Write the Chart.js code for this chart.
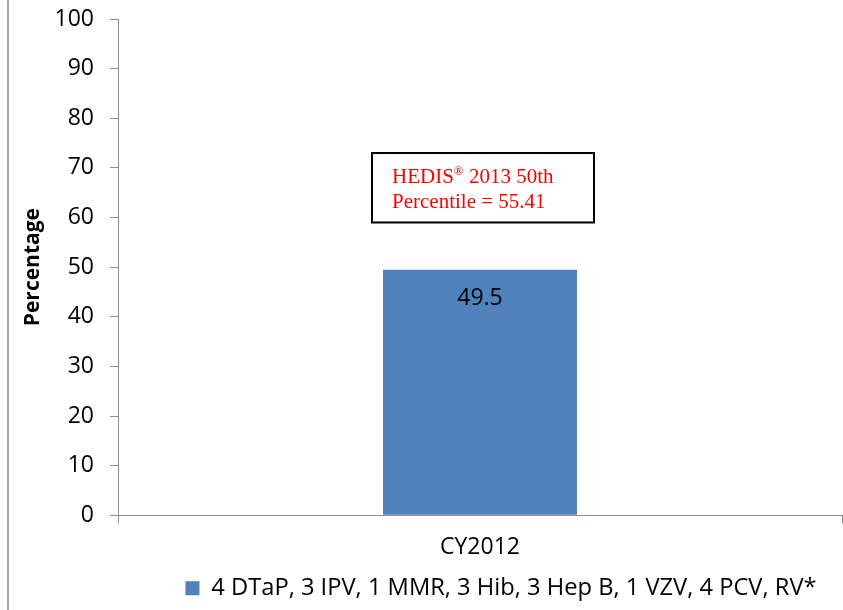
<!DOCTYPE html>
<html>
<head>
<meta charset="utf-8">
<script src="https://cdn.jsdelivr.net/npm/chart.js@4"></script>
<style>
  html, body { margin: 0; padding: 0; background: #fff; }
  #wrap { width: 843px; height: 610px; }
</style>
</head>
<body>
<div id="wrap"><canvas id="barChart" width="843" height="610"></canvas></div>
<script>
// data
const categories = ["CY2012"];
const seriesName = "4 DTaP, 3 IPV, 1 MMR, 3 Hib, 3 Hep B, 1 VZV, 4 PCV, RV*";
const seriesValues = [49.5];
const benchmarkLines = ["HEDIS", "® 2013 50th", "Percentile = 55.41"];
const yTicks = [0, 10, 20, 30, 40, 50, 60, 70, 80, 90, 100];

const grey = "#8c8c8c";
const sans = "'Open Sans', sans-serif";

// grey frame line on the left
const framePlugin = {
  id: "frame",
  beforeDraw(chart) {
    const ctx = chart.ctx;
    ctx.save();
    ctx.strokeStyle = "#a6a6a6";
    ctx.lineWidth = 2;
    ctx.beginPath();
    ctx.moveTo(8, 0);
    ctx.lineTo(8, chart.height);
    ctx.stroke();
    ctx.restore();
  },
};

// value label inside the bar + benchmark text box
const labelPlugin = {
  id: "labels",
  afterDatasetsDraw(chart) {
    const ctx = chart.ctx;
    const meta = chart.getDatasetMeta(0);
    ctx.save();
    ctx.fillStyle = "#000";
    ctx.font = "23px " + sans;
    ctx.textAlign = "center";
    ctx.textBaseline = "middle";
    meta.data.forEach((bar, i) => {
      ctx.fillText(seriesValues[i].toFixed(1), bar.x, bar.y + 29);
    });

    // benchmark box
    const y = chart.scales.y;
    const cx = meta.data[0].x;
    const left = cx - 108, right = cx + 114;
    const top = y.getPixelForValue(73), bottom = y.getPixelForValue(59);
    ctx.fillStyle = "#fff";
    ctx.fillRect(left, top, right - left, bottom - top);
    ctx.strokeStyle = "#000";
    ctx.lineWidth = 2;
    ctx.strokeRect(left, top, right - left, bottom - top);

    ctx.fillStyle = "#ff0000";
    ctx.textAlign = "left";
    ctx.textBaseline = "alphabetic";
    const tx = left + 20;
    ctx.font = "21px 'Liberation Serif', serif";
    ctx.fillText(benchmarkLines[0], tx, top + 30);
    let w = ctx.measureText(benchmarkLines[0]).width;
    ctx.font = "13px 'Liberation Serif', serif";
    ctx.fillText("®", tx + w, top + 22);
    w += ctx.measureText("®").width;
    ctx.font = "21px 'Liberation Serif', serif";
    ctx.fillText(benchmarkLines[1].slice(1), tx + w, top + 30);
    ctx.fillText(benchmarkLines[2], tx, top + 55);
    ctx.restore();
  },
};

// move the legend a bit right like the original
const legendShift = {
  id: "legendShift",
  afterLayout(chart) {
    chart.legend.left += 80;
    chart.legend.right += 80;
  },
};

new Chart(document.getElementById("barChart").getContext("2d"), {
  type: "bar",
  data: {
    labels: categories,
    datasets: [
      {
        label: seriesName,
        data: seriesValues,
        backgroundColor: "#4f81bd",
        borderWidth: 0,
        barPercentage: 0.268,
        categoryPercentage: 1,
      },
    ],
  },
  options: {
    responsive: false,
    animation: false,
    devicePixelRatio: 1,
    layout: { padding: { top: 19, right: 1, left: 0, bottom: 0 } },
    plugins: {
      legend: {
        position: "bottom",
        labels: {
          color: "#000",
          font: { family: sans, size: 23.7 },
          boxWidth: 14,
          boxHeight: 14,
          padding: 5,
        },
      },
      tooltip: { enabled: false },
    },
    scales: {
      x: {
        afterFit(scale) {
          scale.height = 56;
        },
        grid: {
          offset: true,
          drawOnChartArea: false,
          color: grey,
          tickLength: 8,
        },
        border: { color: grey, width: 1 },
        ticks: { color: "#000", font: { family: sans, size: 23 }, padding: 10 },
      },
      y: {
        min: 0,
        max: 100,
        afterFit(scale) {
          scale.width = 118;
          scale.paddingTop = 0;
          scale.paddingBottom = 0;
        },
        afterBuildTicks(scale) {
          scale.ticks = yTicks.map((v) => ({ value: v }));
        },
        grid: { drawOnChartArea: false, color: grey, tickLength: 8 },
        border: { color: grey, width: 1 },
        ticks: { color: "#000", font: { family: sans, size: 23 }, padding: 16 },
        title: {
          display: true,
          text: "Percentage",
          color: "#000",
          font: { family: sans, size: 21, weight: "bold" },
          padding: { top: 20, bottom: 0 },
        },
      },
    },
  },
  plugins: [framePlugin, labelPlugin, legendShift],
});
</script>
</body>
</html>
